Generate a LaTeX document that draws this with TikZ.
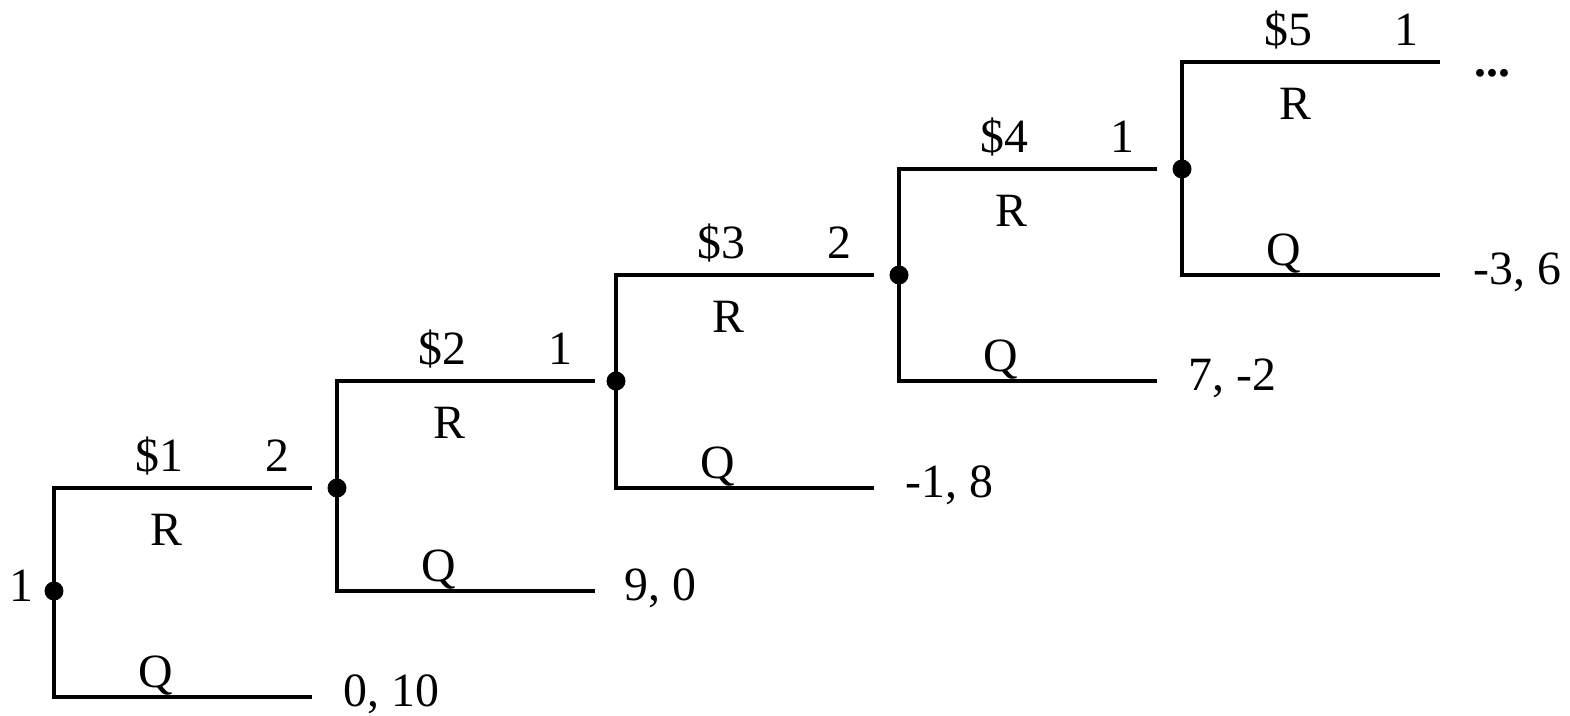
\documentclass[tikz,border=0pt]{standalone}
\usepackage{fontspec}
\setmainfont{Liberation Serif}
\usetikzlibrary{calc}

\begin{document}
\begin{tikzpicture}[
  every node/.style={inner sep=0pt, font=\fontsize{13.6}{16}\selectfont},
  dec/.style={circle, fill=black, minimum size=1.9mm},
  lbl/.style={anchor=base},
  pay/.style={anchor=base west},
  edge/.style={line width=1pt, draw=black},
]
\useasboundingbox (0,0) rectangle (15.70,7.16);
% --- decision nodes ---
\node[dec] (n1) at (0.54,1.25) {};
\node[dec] (n2) at (3.37,2.28) {};
\node[dec] (n3) at (6.16,3.35) {};
\node[dec] (n4) at (8.99,4.41) {};
\node[dec] (n5) at (11.82,5.47) {};
% --- branch ends ---
\coordinate (r1) at (3.12,2.28);  \coordinate (q1) at (3.12,0.19);
\coordinate (r2) at (5.95,3.35);  \coordinate (q2) at (5.95,1.25);
\coordinate (r3) at (8.74,4.41);  \coordinate (q3) at (8.74,2.28);
\coordinate (r4) at (11.57,5.47); \coordinate (q4) at (11.57,3.35);
\coordinate (r5) at (14.40,6.54); \coordinate (q5) at (14.40,4.41);
% --- branches ---
\draw[edge] (r1) -| (n1.center) |- (q1);
\draw[edge] (r2) -| (n2.center) |- (q2);
\draw[edge] (r3) -| (n3.center) |- (q3);
\draw[edge] (r4) -| (n4.center) |- (q4);
\draw[edge] (r5) -| (n5.center) |- (q5);
% --- players ---
\node[lbl] (pl1) at (0.21,1.14) {1};
\node[lbl] (pl2) at (2.77,2.44) {2};
\node[lbl] (pl3) at (5.60,3.51) {1};
\node[lbl] (pl4) at (8.39,4.57) {2};
\node[lbl] (pl5) at (11.22,5.63) {1};
\node[lbl] (pl6) at (14.06,6.70) {1};
% --- pot ---
\node[lbl] (c1) at (1.59,2.44) {\$1};
\node[lbl] (c2) at (4.42,3.51) {\$2};
\node[lbl] (c3) at (7.21,4.57) {\$3};
\node[lbl] (c4) at (10.04,5.63) {\$4};
\node[lbl] (c5) at (12.88,6.70) {\$5};
% --- actions ---
\node[lbl] (a1r) at (1.66,1.70) {R};
\node[lbl] (a2r) at (4.49,2.77) {R};
\node[lbl] (a3r) at (7.28,3.83) {R};
\node[lbl] (a4r) at (10.11,4.89) {R};
\node[lbl] (a5r) at (12.95,5.96) {R};
\node[lbl] (a1q) at (1.56,0.28) {Q};
\node[lbl] (a2q) at (4.39,1.34) {Q};
\node[lbl] (a3q) at (7.18,2.37) {Q};
\node[lbl] (a4q) at (10.01,3.44) {Q};
\node[lbl] (a5q) at (12.84,4.50) {Q};
% --- payoffs ---
\node[pay] (p1) at (3.43,0.09) {0, 10};
\node[pay] (p2) at (6.24,1.15) {9, 0};
\node[pay] (p3) at (9.05,2.18) {-1, 8};
\node[pay] (p4) at (11.88,3.25) {7, -2};
\node[pay] (p5) at (14.73,4.31) {-3, 6};
\node[pay] (more) at (14.74,6.39) {\textbf{...}};
\end{tikzpicture}
\end{document}
